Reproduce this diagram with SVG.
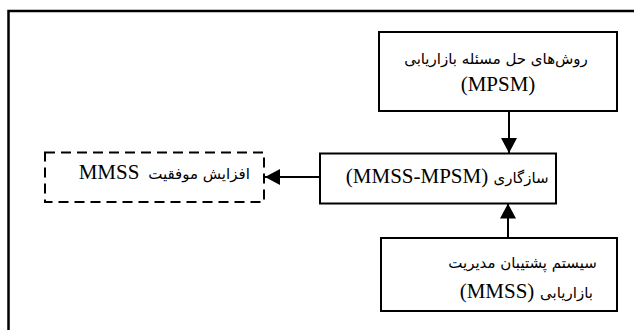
<svg xmlns="http://www.w3.org/2000/svg" width="634" height="330" viewBox="0 0 634 330">
<style>
.box{fill:#fff;stroke:#000;stroke-width:2}
.dash{fill:#fff;stroke:#000;stroke-width:2;stroke-dasharray:10 6}
.l{font-size:21px;fill:#000}
.a{font-family:"DejaVu Sans",sans-serif;font-size:15px;fill:#000}
.c{stroke:#000;stroke-width:2;fill:none}
</style>
<defs>
<marker id="ah" markerWidth="16" markerHeight="16" viewBox="0 0 16 16" refX="15" refY="8" orient="auto" markerUnits="userSpaceOnUse">
<path d="M0,0 L15,8 L0,16 Z" fill="#000"/>
</marker>
</defs>
<rect x="0" y="0" width="634" height="330" fill="#fff"/>
<rect id="frame" x="8.5" y="11" width="640" height="340" fill="none" stroke="#000" stroke-width="2.5"/>
<g id="connectors">
<line class="c" x1="509" y1="111" x2="509" y2="153" marker-end="url(#ah)"/>
<line class="c" x1="508" y1="238" x2="508" y2="203.5" marker-end="url(#ah)"/>
<line class="c" x1="320" y1="177" x2="265" y2="177" marker-end="url(#ah)"/>
</g>
<g id="mpsm">
<rect class="box" x="379" y="32" width="238" height="79"/>
<text class="a" x="496" y="64" text-anchor="middle">روش‌های حل مسئله بازاریابی</text>
<text class="l" font-family="Liberation Serif, serif" x="498" y="91" text-anchor="middle">(MPSM)</text>
</g>
<g id="fit">
<rect class="box" x="320" y="153.5" width="236" height="50"/>
<text class="a" x="521" y="183" text-anchor="middle">سازگاری</text>
<text class="l" font-family="Liberation Serif, serif" x="417" y="183" text-anchor="middle">(MMSS-MPSM)</text>
</g>
<g id="success">
<rect class="dash" x="45" y="152.5" width="219" height="49.5"/>
<text class="a" x="199" y="179" text-anchor="middle">افزایش موفقیت</text>
<text class="l" font-family="Liberation Serif, serif" x="109" y="179" text-anchor="middle">MMSS</text>
</g>
<g id="mmss">
<rect class="box" x="381" y="238" width="236" height="73"/>
<text class="a" x="522.5" y="268" text-anchor="middle">سیستم پشتیبان مدیریت</text>
<text class="a" x="566.5" y="298" text-anchor="middle">بازاریابی</text>
<text class="l" font-family="Liberation Serif, serif" x="497" y="298" text-anchor="middle">(MMSS)</text>
</g>
</svg>
